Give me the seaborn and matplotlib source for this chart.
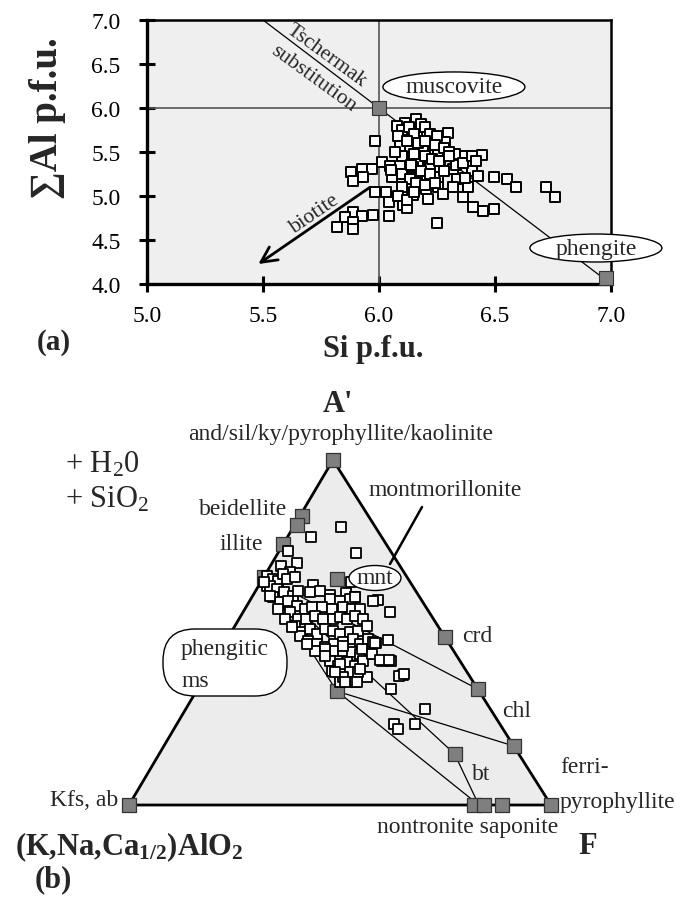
import numpy as np
import pandas as pd
import matplotlib
matplotlib.use("Agg")
import matplotlib.pyplot as plt
import seaborn as sns
from matplotlib.patches import Ellipse, FancyBboxPatch, Polygon

# ---------------- data : panel (a) ----------------
si_pfu = [5.983, 6.112, 6.160, 6.076, 6.299, 6.220, 6.162, 6.285, 6.090, 6.134,
          6.190, 6.256, 6.328, 6.370, 6.443, 6.112, 6.170, 6.012, 6.047, 6.090,
          6.220, 6.263, 6.320, 6.400, 5.878, 5.925, 5.968, 5.886, 5.932, 6.148,
          6.055, 6.098, 6.134, 6.205, 6.256, 6.335, 6.428, 6.496, 5.983, 6.030,
          6.098, 6.148, 6.203, 6.256, 6.277, 6.385, 6.213, 6.360, 6.044, 6.102,
          6.122, 6.406, 6.450, 6.496, 5.889, 5.853, 5.925, 5.975, 6.044, 5.889,
          5.817, 5.889, 6.248, 6.553, 6.589, 6.720, 6.758,
          6.100, 6.130, 6.180, 6.200, 6.220, 6.250, 6.150, 6.080, 6.120, 6.170,
          6.200, 6.240, 6.280, 6.300, 6.150, 6.200, 6.230, 6.260, 6.100, 6.070,
          6.050, 6.180, 6.220, 6.280, 6.330, 6.360, 6.300, 6.140, 6.160, 6.200,
          6.240, 6.100, 6.080, 6.120, 6.150, 6.320, 6.370, 6.400, 6.420]
al_pfu = [5.629, 5.830, 5.875, 5.800, 5.720, 5.655, 5.666, 5.617, 5.572, 5.530,
          5.553, 5.515, 5.477, 5.458, 5.466, 5.420, 5.400, 5.382, 5.340, 5.340,
          5.340, 5.325, 5.307, 5.288, 5.276, 5.307, 5.307, 5.174, 5.212, 5.325,
          5.212, 5.250, 5.193, 5.193, 5.212, 5.193, 5.230, 5.212, 5.049, 5.049,
          5.070, 5.010, 5.080, 5.098, 5.023, 5.098, 4.966, 4.985, 4.928, 4.898,
          4.860, 4.871, 4.833, 4.852, 4.814, 4.757, 4.776, 4.784, 4.776, 4.700,
          4.651, 4.625, 4.689, 5.193, 5.098, 5.098, 4.992,
          5.750, 5.780, 5.820, 5.780, 5.700, 5.680, 5.700, 5.680, 5.620, 5.600,
          5.620, 5.580, 5.550, 5.500, 5.480, 5.450, 5.420, 5.400, 5.450, 5.500,
          5.300, 5.280, 5.250, 5.280, 5.350, 5.380, 5.450, 5.350, 5.150, 5.120,
          5.150, 5.100, 5.000, 4.950, 5.050, 5.100, 5.200, 5.450, 5.400]
em_a_names = ["muscovite", "phengite"]
em_a_si = [6.00, 6.98]
em_a_al = [6.00, 4.07]

# ---------------- data : panel (b)  (A' fraction, F fraction) ----------------
tern_a = [0.806, 0.777, 0.736, 0.730, 0.701, 0.693, 0.675, 0.646, 0.638, 0.609,
          0.614, 0.603, 0.594, 0.591, 0.559, 0.478, 0.470, 0.417, 0.417, 0.377,
          0.374, 0.336, 0.278, 0.235, 0.220, 0.235, 0.635, 0.429, 0.371,
          0.665, 0.655, 0.650, 0.670, 0.655, 0.660, 0.636, 0.626, 0.617, 0.607,
          0.621, 0.617, 0.621, 0.597, 0.592, 0.597, 0.602, 0.602, 0.588, 0.592,
          0.578, 0.568, 0.573, 0.573, 0.568, 0.573, 0.568, 0.568, 0.559, 0.539,
          0.539, 0.549, 0.539, 0.539, 0.544, 0.539, 0.549, 0.539, 0.520, 0.501,
          0.510, 0.496, 0.510, 0.505, 0.496, 0.501, 0.505, 0.520, 0.491, 0.476,
          0.467, 0.457, 0.467, 0.472, 0.481, 0.467, 0.481, 0.472, 0.447, 0.438,
          0.447, 0.447, 0.443, 0.438, 0.438, 0.418, 0.404, 0.414, 0.404, 0.418,
          0.389, 0.380, 0.385, 0.385, 0.356, 0.356, 0.370,
          0.467, 0.452, 0.461, 0.452, 0.470, 0.438, 0.420, 0.420, 0.432, 0.409,
          0.394, 0.386, 0.357, 0.357, 0.380,
          0.646, 0.606, 0.568, 0.539, 0.516]
tern_f = [0.113, 0.056, 0.021, 0.185, 0.059, 0.025, 0.055, 0.214, 0.128, 0.182,
          0.217, 0.244, 0.303, 0.292, 0.348, 0.382, 0.358, 0.398, 0.419, 0.467,
          0.459, 0.458, 0.567, 0.514, 0.531, 0.564, 0.020, 0.340, 0.385,
          0.005, 0.025, 0.040, 0.042, 0.057, 0.074, 0.027, 0.047, 0.068, 0.096,
          0.101, 0.131, 0.152, 0.188, 0.214, 0.235, 0.245, 0.051, 0.074, 0.091,
          0.118, 0.142, 0.156, 0.180, 0.206, 0.231, 0.253, 0.273, 0.112, 0.141,
          0.160, 0.176, 0.200, 0.223, 0.237, 0.255, 0.270, 0.295, 0.142, 0.167,
          0.182, 0.205, 0.218, 0.240, 0.260, 0.282, 0.299, 0.312, 0.168, 0.195,
          0.219, 0.244, 0.259, 0.280, 0.299, 0.322, 0.334, 0.351, 0.225, 0.253,
          0.272, 0.292, 0.314, 0.336, 0.359, 0.274, 0.301, 0.316, 0.340, 0.353,
          0.292, 0.316, 0.338, 0.357, 0.328, 0.364, 0.329,
          0.196, 0.246, 0.284, 0.334, 0.356, 0.364, 0.392, 0.413, 0.256, 0.302,
          0.357, 0.302, 0.368, 0.340, 0.468,
          0.007, 0.041, 0.078, 0.109, 0.137]

# end members on the A'-(K,Na,Ca1/2)AlO2-F diagram
em_b_names = ["A'", "beidellite", "beidellite2", "illite", "phengitic ms", "mnt", "crd",
              "chl_hi", "chl_lo", "bt", "ms_fe", "nontronite", "nontronite2",
              "saponite", "ferripyrophyllite", "Kfs, ab"]
em_b_a = [1.000, 0.838, 0.812, 0.757, 0.660, 0.655, 0.487, 0.336, 0.171, 0.148,
          0.330, 0.000, 0.000, 0.000, 0.000, 0.000]
em_b_f = [0.000, 0.005, 0.006, 0.000, 0.000, 0.176, 0.513, 0.664, 0.829, 0.700,
          0.333, 0.818, 0.841, 0.884, 1.000, 0.000]

# tie lines between compositions (A', F) pairs
tie_from = [(0.660, 0.000), (0.660, 0.000), (0.660, 0.000), (0.330, 0.333), (0.330, 0.333), (0.148, 0.700)]
tie_to = [(0.336, 0.664), (0.148, 0.700), (0.330, 0.333), (0.171, 0.829), (0.000, 0.829), (0.000, 0.829)]

# ---------------- style ----------------
sns.set_theme(style="white")
plt.rcParams['font.family'] = ['Liberation Serif', 'DejaVu Serif']
plt.rcParams['mathtext.fontset'] = 'custom'
plt.rcParams['mathtext.rm'] = 'Liberation Serif'
plt.rcParams['mathtext.it'] = 'Liberation Serif:italic'
plt.rcParams['mathtext.bf'] = 'Liberation Serif:bold'

W, H = 676, 903
fig = plt.figure(figsize=(W / 100, H / 100), dpi=100)

# background canvas axes in pixel units (for panel b and free labels)
axb = fig.add_axes([0, 0, 1, 1], zorder=0)
axb.set_xlim(0, W)
axb.set_ylim(H, 0)
axb.axis('off')
axb.patch.set_visible(False)

# ---------------- panel (a) ----------------
L, R, T, B = 147, 611, 21, 285
axa = fig.add_axes([L / W, 1 - B / H, (R - L) / W, (B - T) / H], zorder=2)
axa.set_facecolor('#efefef')
axa.set_xlim(5.0, 7.0)
axa.set_ylim(4.0, 7.0)

axa.axhline(6.0, color='#555555', lw=1.2, zorder=1)
axa.axvline(6.0, color='#555555', lw=1.2, zorder=1)
tsch_si = np.array([5.5, 7.0])
axa.plot(tsch_si, 6.0 - 2.0 * (tsch_si - 6.0), color='black', lw=0.9, zorder=1)

df_a = pd.DataFrame({"Si": si_pfu, "Al": al_pfu})
sns.scatterplot(data=df_a, x="Si", y="Al", ax=axa, marker='s', s=60,
                facecolor='white', edgecolor='black', linewidth=1.4, zorder=3, legend=False)
sns.scatterplot(x=em_a_si, y=em_a_al, ax=axa, marker='s', s=100, color='#7f7f7f',
                edgecolor='#333333', linewidth=0.8, zorder=4, legend=False, clip_on=False)

axa.annotate("", xy=(5.480, 4.227), xytext=(5.961, 5.099),
             arrowprops=dict(arrowstyle='->', lw=2.0, color='black', mutation_scale=28,
                             shrinkA=0, shrinkB=0), zorder=2)
axa.text(5.72, 4.80, "biotite", rotation=34.5, ha='center', va='center', fontsize=15.5,
         rotation_mode='anchor')
axa.text(5.772, 6.60, "Tschermak", rotation=-36, ha='center', va='center', fontsize=15.5,
         rotation_mode='anchor')
axa.text(5.716, 6.347, "substitution", rotation=-36, ha='center', va='center', fontsize=15.5,
         rotation_mode='anchor')

for name, cx, cy, w, h in [("muscovite", 6.323, 6.239, 0.612, 0.341),
                           ("phengite", 6.935, 4.409, 0.569, 0.318)]:
    e = Ellipse((cx, cy), w, h, facecolor='white', edgecolor='black', lw=1.0,
                zorder=5, clip_on=False)
    axa.add_patch(e)
    axa.text(cx, cy, name, ha='center', va='center', fontsize=17, zorder=6, clip_on=False)

axa.set_xticks([5.0, 5.5, 6.0, 6.5, 7.0])
axa.set_yticks([4.0, 4.5, 5.0, 5.5, 6.0, 6.5, 7.0])
axa.set_xticklabels(["5.0", "5.5", "6.0", "6.5", "7.0"])
axa.set_yticklabels(["4.0", "4.5", "5.0", "5.5", "6.0", "6.5", "7.0"])
axa.tick_params(axis='both', direction='inout', length=12, width=2.2, labelsize=17,
                colors='black', bottom=True, left=True, top=False, right=False)
axa.tick_params(axis='y', pad=13)
axa.tick_params(axis='x', pad=9)
for side, lw in [('left', 2.4), ('bottom', 2.4), ('top', 1.8), ('right', 1.8)]:
    axa.spines[side].set_linewidth(lw)
    axa.spines[side].set_color('black')
    axa.spines[side].set_visible(True)

axa.set_xlabel("Si p.f.u.", fontsize=22, fontweight='bold')
axa.xaxis.set_label_coords((373 - L) / (R - L), (B - 350) / (B - T))
axa.xaxis.label.set_va('center')
axa.set_ylabel("∑Al p.f.u.", fontsize=28, fontweight='bold')
axa.yaxis.set_label_coords((47 - L) / (R - L), (B - 118) / (B - T))
axa.yaxis.label.set_va('center')

axb.text(54, 343, "(a)", ha='center', va='center', fontsize=21, fontweight='bold')

# ---------------- panel (b) ----------------
VA = (333, 461)   # A' apex (pixels)
VK = (129, 806)   # (K,Na,Ca1/2)AlO2
VF = (551, 806)   # F


def tern(a, f):
    a = np.asarray(a, dtype=float)
    f = np.asarray(f, dtype=float)
    x = VK[0] + (VA[0] - VK[0]) * a + (VF[0] - VK[0]) * f
    y = VK[1] + (VA[1] - VK[1]) * a + (VF[1] - VK[1]) * f
    return x, y


tri = Polygon([VK, VA, VF], closed=True, facecolor='#ececec', edgecolor='black',
              lw=2.0, zorder=1, joinstyle='miter')
axb.add_patch(tri)

for (a0, f0), (a1, f1) in zip(tie_from, tie_to):
    x, y = tern([a0, a1], [f0, f1])
    axb.plot(x, y, color='black', lw=0.9, zorder=2)

# montmorillonite pointer
axb.plot([390, 422], [565, 508], color='black', lw=1.8, zorder=2)

xb, yb = tern(tern_a, tern_f)
df_b = pd.DataFrame({"x": xb, "y": yb})
sns.scatterplot(data=df_b, x="x", y="y", ax=axb, marker='s', s=48, facecolor='white',
                edgecolor='black', linewidth=1.3, zorder=4, legend=False)
xe, ye = tern(em_b_a, em_b_f)
sns.scatterplot(x=xe, y=ye, ax=axb, marker='s', s=110, color='#7f7f7f',
                edgecolor='#333333', linewidth=0.9, zorder=3, legend=False)
axb.set_xlim(0, W)
axb.set_ylim(H, 0)
axb.set_xlabel("")
axb.set_ylabel("")

# labels panel (b)
axb.add_patch(Ellipse((375, 579), 52, 25, facecolor='white', edgecolor='black', lw=1.0, zorder=5))
axb.text(375, 579, "mnt", ha='center', va='center', fontsize=17, zorder=6)
axb.add_patch(FancyBboxPatch((163, 630), 124, 67,
                             boxstyle="round,pad=0,rounding_size=32",
                             facecolor='white', edgecolor='black', lw=1.0, zorder=5))
axb.text(181, 650, "phengitic", ha='left', va='center', fontsize=17, zorder=6)
axb.text(181, 682, "ms", ha='left', va='center', fontsize=17, zorder=6)

fs = 17
axb.text(338, 405, "A'", ha='center', va='center', fontsize=22, fontweight='bold')
axb.text(341, 435, "and/sil/ky/pyrophyllite/kaolinite", ha='center', va='center', fontsize=fs)
axb.text(65, 465, "+ H$_2$0", ha='left', va='center', fontsize=22)
axb.text(65, 500, "+ SiO$_2$", ha='left', va='center', fontsize=22)
axb.text(287, 510, "beidellite", ha='right', va='center', fontsize=fs)
axb.text(263, 545, "illite", ha='right', va='center', fontsize=fs)
axb.text(445, 491, "montmorillonite", ha='center', va='center', fontsize=fs)
axb.text(462, 637, "crd", ha='left', va='center', fontsize=fs)
axb.text(502, 712, "chl", ha='left', va='center', fontsize=fs)
axb.text(472, 775, "bt", ha='left', va='center', fontsize=fs)
axb.text(560, 768, "ferri-", ha='left', va='center', fontsize=fs)
axb.text(560, 803, "pyrophyllite", ha='left', va='center', fontsize=fs)
axb.text(118, 801, "Kfs, ab", ha='right', va='center', fontsize=fs)
axb.text(468, 828, "nontronite saponite", ha='center', va='center', fontsize=fs)
axb.text(129, 847, r"(K,Na,Ca$\mathbf{_{1/2}}$)AlO$\mathbf{_2}$", ha='center', va='center',
         fontsize=22, fontweight='bold')
axb.text(588, 847, "F", ha='center', va='center', fontsize=22, fontweight='bold')
axb.text(53, 880, "(b)", ha='center', va='center', fontsize=22, fontweight='bold')

fig.savefig("out.png", dpi=100)
